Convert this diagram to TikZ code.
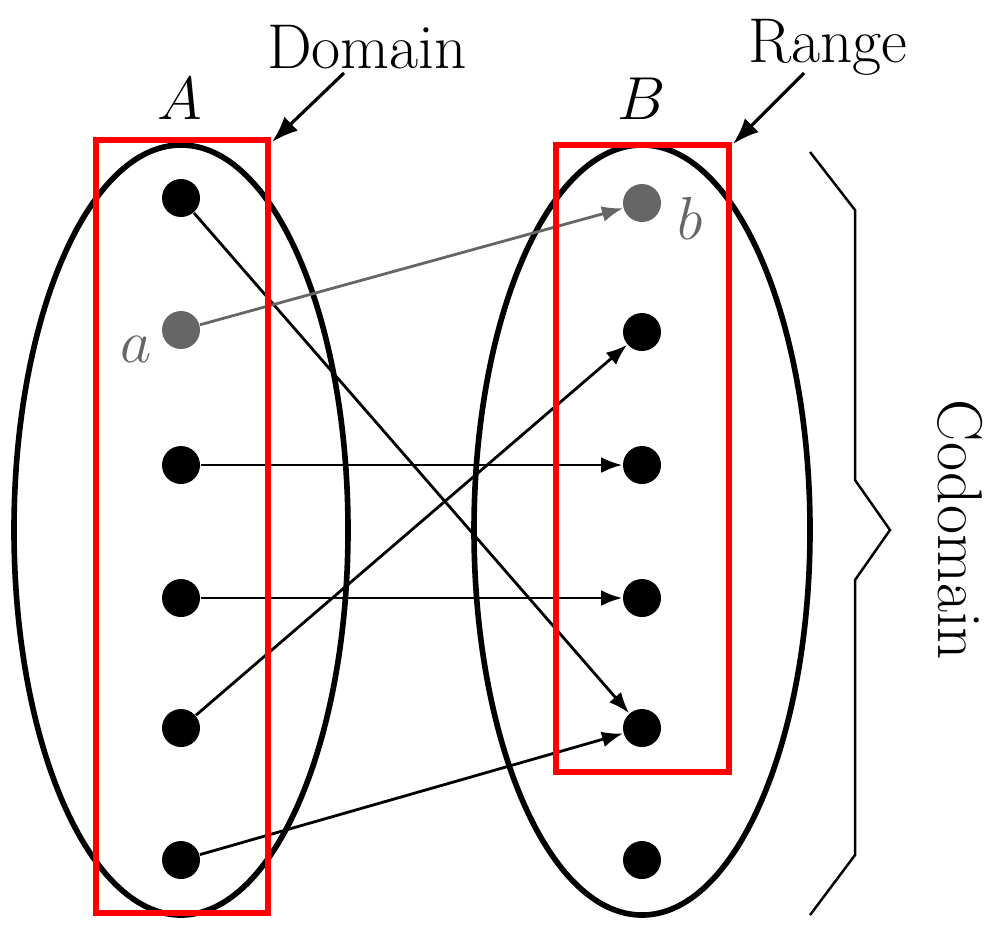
\documentclass[tikz,border=0pt]{standalone}
\usetikzlibrary{arrows.meta}

\begin{document}
\begin{tikzpicture}[>={Latex[length=6pt,width=4.5pt]}]
   \useasboundingbox (0,0) rectangle (10,-9.34);
   \fontsize{18}{21}\selectfont
   \tikzstyle{dot}=[circle, inner sep=0pt, minimum size=3.8mm]
   \tikzstyle{map}=[->, line width=0.8pt]
   \tikzstyle{pointer}=[-{Latex[length=7.5pt,width=5.5pt]}, line width=0.9pt]
   \tikzstyle{box}=[draw=red, line width=1.7pt]
   % the two sets
   \draw[line width=1.6pt] (1.81,-5.30) ellipse (1.67 and 3.85);
   \draw[line width=1.6pt] (6.42,-5.30) ellipse (1.68 and 3.85);
   \node (setA) at (1.80,-0.99) {$A$};
   \node (setB) at (6.42,-0.99) {$B$};
   \foreach \i/\y/\c in {1/1.98/black,2/3.30/black!60,3/4.65/black,4/5.98/black,5/7.28/black,6/8.60/black} {
       \node[dot,fill=\c] (l\i) at (1.81,-\y) {};
   }
   \foreach \i/\y/\c in {1/2.03/black!60,2/3.32/black,3/4.65/black,4/5.98/black,5/7.28/black,6/8.60/black} {
       \node[dot,fill=\c] (r\i) at (6.42,-\y) {};
   }
   \node[black!60] (lbla) at (1.36,-3.49) {$a$};
   \node[black!60] (lblb) at (6.90,-2.18) {$b$};
   % the mapping
   \foreach \s/\t in {1/5,3/3,4/4,5/2,6/5} {
       \draw[map] (l\s) -- (r\t);
   }
   \draw[map,black!60] (l2) -- (r1);
   % domain and range
   \draw[box] (0.96,-1.40) rectangle (2.68,-9.13);
   \draw[box] (5.56,-1.45) rectangle (7.29,-7.72);
   \node (domain) at (3.67,-0.47) {Domain};
   \node (range) at (8.28,-0.47) {Range};
   \coordinate (domfoot) at (3.44,-0.73);
   \coordinate (domtip) at (2.72,-1.42);
   \coordinate (rngfoot) at (8.04,-0.73);
   \coordinate (rngtip) at (7.33,-1.44);
   \draw[pointer] (domfoot) -- (domtip);
   \draw[pointer] (rngfoot) -- (rngtip);
   % codomain brace
   \draw[line width=0.7pt] (8.10,-1.52) -- (8.55,-2.10) -- (8.55,-4.80) -- (8.90,-5.30)
       -- (8.55,-5.80) -- (8.55,-8.55) -- (8.10,-9.15);
   \node[rotate=-90] (codomain) at (9.60,-5.30) {Codomain};
\end{tikzpicture}
\end{document}
